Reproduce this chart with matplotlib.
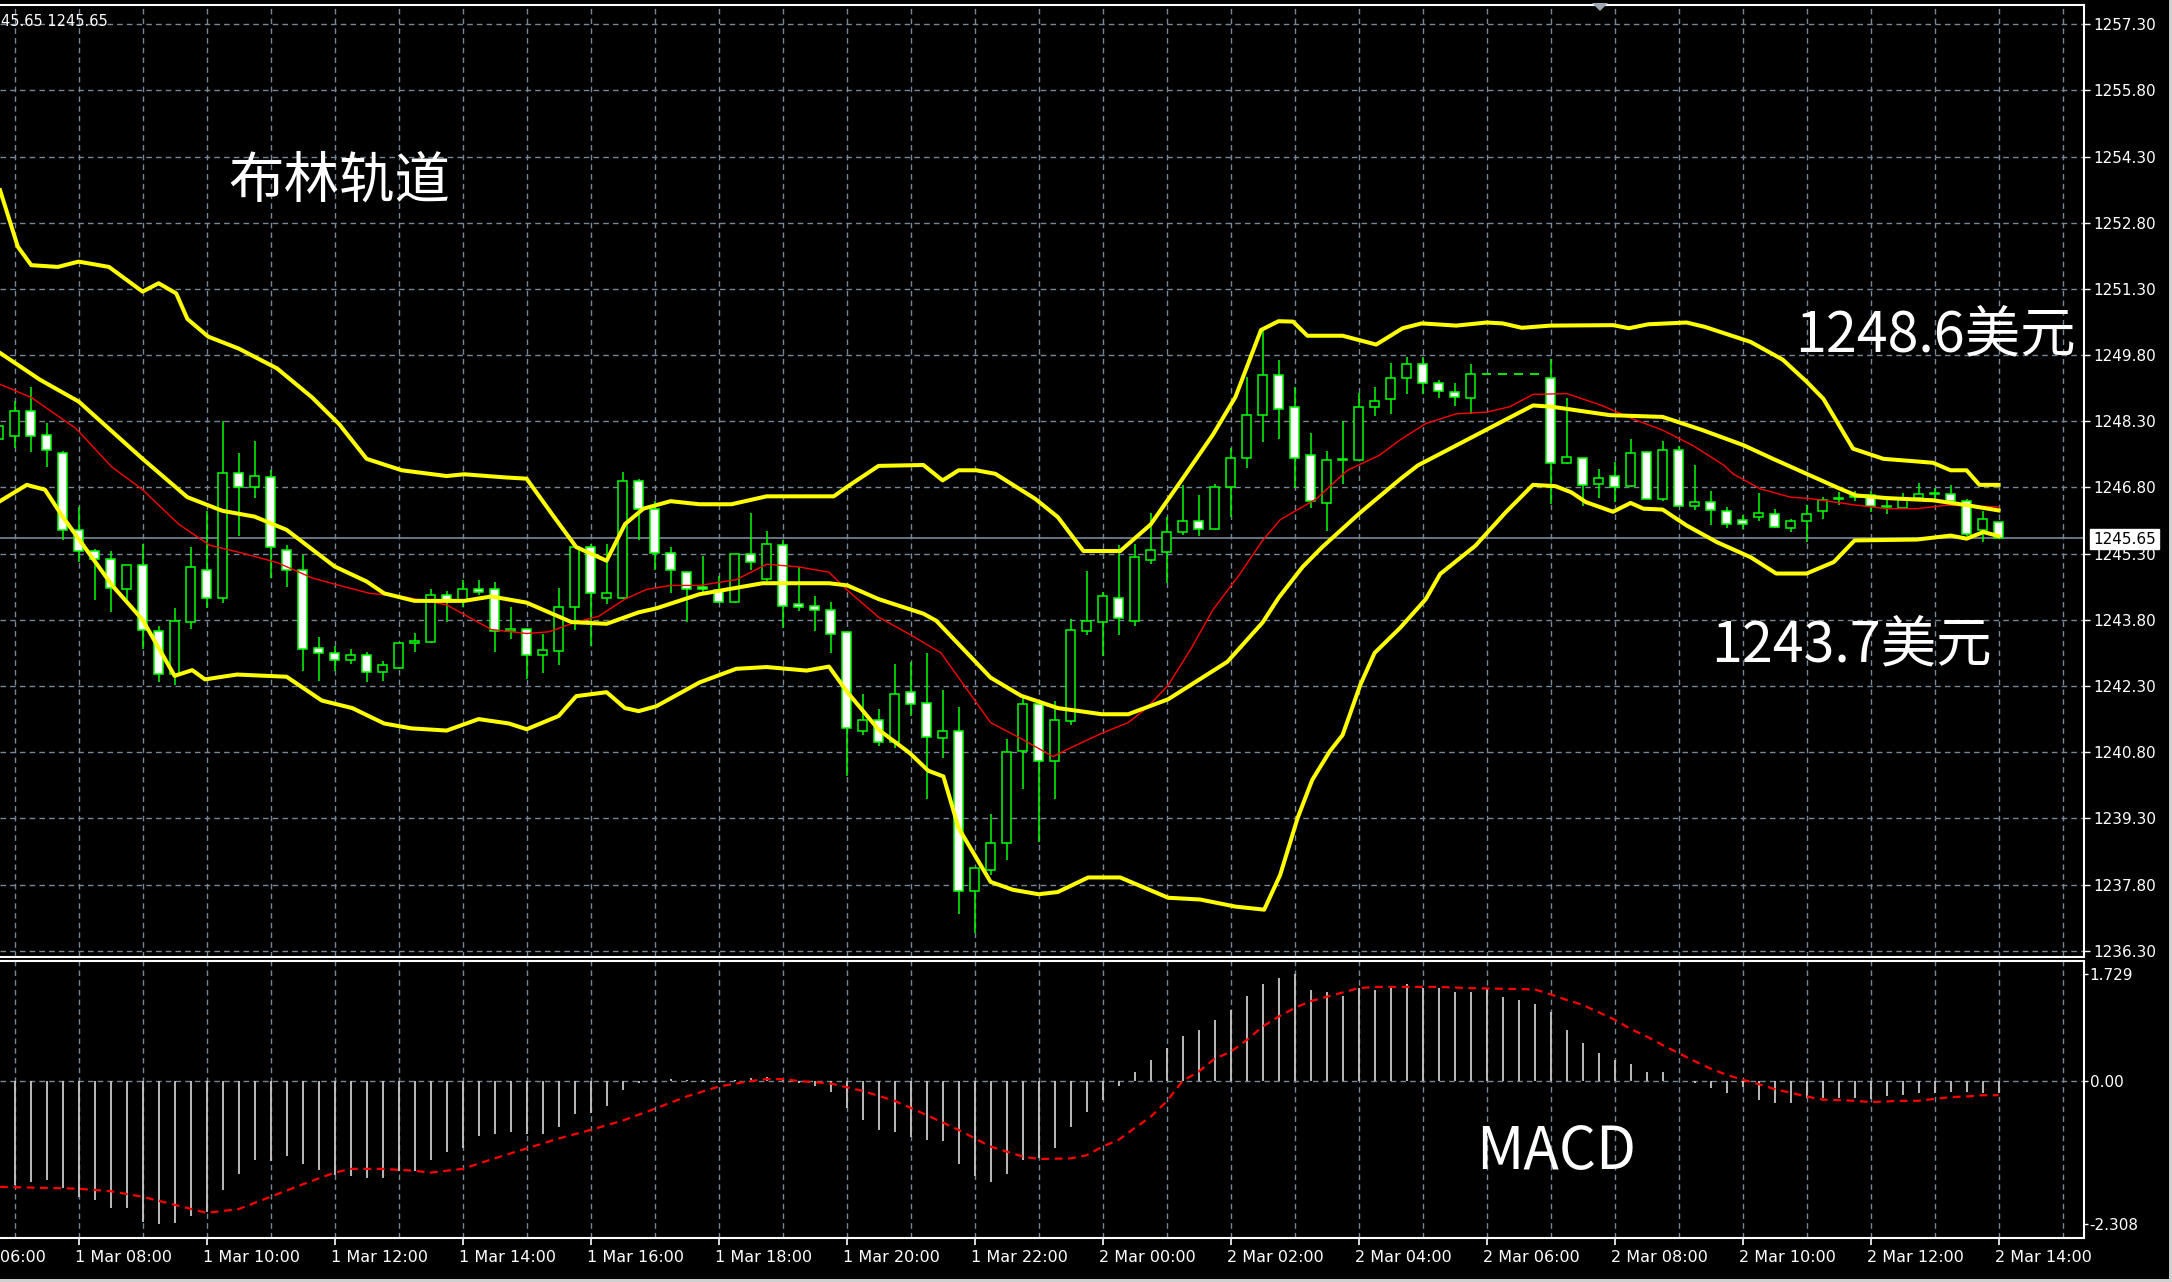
import numpy as np
import matplotlib
matplotlib.use("Agg")
import matplotlib.pyplot as plt
from matplotlib.patches import Rectangle
from matplotlib import transforms

W, H = 2172, 1282

# ---------------- data ----------------
# 15-minute candles; index 0 = 1 Mar 07:00, index -1 = 1 Mar 06:45, index 124 = 2 Mar 14:00
FIRST_INDEX = -1
OPEN = [1247.90,
    1247.97, 1248.53, 1247.99, 1247.58, 1245.84, 1245.37, 1245.18, 1244.50, 1245.04, 1243.54,
    1242.58, 1243.75, 1244.94, 1244.29, 1247.12, 1246.80, 1247.03, 1245.39, 1244.93, 1243.17,
    1243.04, 1242.89, 1243.00, 1242.62, 1242.70, 1243.28, 1243.29, 1244.36, 1244.25, 1244.49,
    1244.50, 1243.54, 1243.60, 1243.00, 1243.10, 1244.10, 1245.45, 1244.30, 1244.30, 1246.94,
    1246.32, 1245.32, 1244.89, 1244.55, 1244.47, 1244.20, 1245.30, 1244.72, 1245.49, 1244.15,
    1244.11, 1244.03, 1243.52, 1241.28, 1241.53, 1241.03, 1242.16, 1241.92, 1241.12, 1241.28,
    1237.66, 1238.12, 1238.75, 1240.82, 1241.90, 1240.60, 1241.51, 1243.54, 1243.74, 1244.30,
    1243.78, 1245.15, 1245.34, 1245.79, 1246.05, 1245.87, 1246.80, 1247.47, 1248.44, 1249.35,
    1248.63, 1247.53, 1246.45, 1247.43, 1247.43, 1248.63, 1248.80, 1249.29, 1249.61, 1249.16,
    1248.97, 1248.84, 1249.38, 1249.38, 1249.38, 1249.38, 1249.29, 1247.35, 1247.47, 1246.88,
    1247.07, 1246.83, 1247.60, 1246.53, 1247.66, 1246.39, 1246.48, 1246.27, 1246.07, 1246.12,
    1246.21, 1245.88, 1246.03, 1246.26, 1246.55, 1246.58, 1246.62, 1246.36, 1246.33, 1246.56,
    1246.66, 1246.66, 1246.49, 1245.83, 1246.02]
HIGH = [1248.60,
    1248.76, 1249.08, 1248.27, 1247.62, 1246.36, 1245.40, 1245.37, 1245.04, 1245.53, 1243.67,
    1244.06, 1245.44, 1246.27, 1248.30, 1247.58, 1247.86, 1247.20, 1245.49, 1245.28, 1243.41,
    1243.20, 1243.15, 1243.08, 1242.86, 1243.28, 1243.50, 1244.50, 1244.46, 1244.70, 1244.70,
    1244.65, 1244.10, 1243.62, 1243.47, 1244.53, 1245.45, 1245.53, 1245.53, 1247.14, 1246.99,
    1246.49, 1245.45, 1244.89, 1245.24, 1244.80, 1245.30, 1246.22, 1245.81, 1245.62, 1244.99,
    1244.35, 1244.20, 1243.52, 1242.12, 1241.77, 1242.81, 1242.85, 1243.04, 1242.20, 1241.82,
    1238.17, 1239.40, 1241.09, 1242.10, 1241.90, 1241.96, 1243.82, 1244.90, 1244.43, 1245.49,
    1245.53, 1246.23, 1246.13, 1246.86, 1246.62, 1246.88, 1247.70, 1249.31, 1250.40, 1249.69,
    1249.08, 1248.04, 1247.62, 1248.30, 1248.95, 1249.08, 1249.63, 1249.76, 1249.76, 1249.23,
    1249.16, 1249.59, 1249.38, 1249.38, 1249.38, 1249.38, 1249.72, 1248.82, 1247.47, 1247.22,
    1247.38, 1247.91, 1247.60, 1247.85, 1247.75, 1247.32, 1246.71, 1246.36, 1246.18, 1246.68,
    1246.32, 1246.09, 1246.41, 1246.58, 1246.70, 1246.71, 1246.71, 1246.51, 1246.67, 1246.91,
    1246.79, 1246.85, 1246.55, 1246.26, 1246.02]
LOW = [1247.75,
    1247.70, 1247.60, 1247.27, 1245.62, 1245.10, 1244.26, 1243.97, 1244.25, 1243.15, 1242.40,
    1242.32, 1243.60, 1244.06, 1244.18, 1245.71, 1246.56, 1244.75, 1244.55, 1242.63, 1242.41,
    1242.65, 1242.80, 1242.40, 1242.42, 1242.69, 1243.07, 1243.28, 1243.76, 1244.10, 1244.36,
    1243.06, 1243.37, 1242.47, 1242.60, 1242.77, 1243.58, 1243.20, 1244.15, 1244.27, 1245.62,
    1244.93, 1244.40, 1243.75, 1244.40, 1244.19, 1244.19, 1244.92, 1244.67, 1243.62, 1244.00,
    1243.54, 1243.05, 1240.25, 1241.19, 1240.94, 1240.90, 1241.61, 1239.74, 1240.66, 1237.13,
    1236.69, 1238.02, 1238.35, 1239.97, 1238.77, 1239.73, 1241.41, 1243.46, 1242.97, 1243.46,
    1243.66, 1245.06, 1244.63, 1245.73, 1245.69, 1245.83, 1246.13, 1247.24, 1247.83, 1247.91,
    1246.78, 1246.33, 1245.82, 1246.88, 1247.43, 1248.42, 1248.47, 1248.93, 1248.93, 1248.83,
    1248.65, 1248.47, 1249.38, 1249.38, 1249.38, 1249.38, 1246.43, 1247.34, 1246.39, 1246.56,
    1246.47, 1246.81, 1246.53, 1246.50, 1246.38, 1246.28, 1245.95, 1245.88, 1245.87, 1246.05,
    1245.88, 1245.79, 1245.56, 1246.08, 1246.41, 1246.49, 1246.24, 1246.21, 1246.32, 1246.55,
    1246.51, 1246.48, 1245.70, 1245.56, 1245.65]
CLOSE = [1248.20,
    1248.53, 1247.97, 1247.66, 1245.84, 1245.37, 1245.18, 1244.52, 1245.04, 1243.58, 1242.58,
    1243.78, 1244.99, 1244.29, 1247.12, 1246.80, 1247.07, 1245.45, 1244.93, 1243.15, 1243.04,
    1242.89, 1243.00, 1242.62, 1242.77, 1243.28, 1243.32, 1244.36, 1244.25, 1244.49, 1244.44,
    1243.54, 1243.60, 1243.00, 1243.12, 1244.08, 1245.45, 1244.41, 1244.41, 1246.94, 1246.32,
    1245.32, 1244.93, 1244.50, 1244.50, 1244.20, 1245.30, 1245.12, 1245.53, 1244.12, 1244.10,
    1244.03, 1243.47, 1241.35, 1241.53, 1241.03, 1242.12, 1241.90, 1241.15, 1241.28, 1237.66,
    1238.17, 1238.75, 1240.80, 1241.90, 1240.60, 1241.53, 1243.58, 1243.77, 1244.35, 1243.85,
    1245.22, 1245.39, 1245.79, 1246.05, 1245.85, 1246.80, 1247.47, 1248.44, 1249.35, 1248.57,
    1247.47, 1246.50, 1247.43, 1247.45, 1248.63, 1248.75, 1249.29, 1249.61, 1249.16, 1248.98,
    1248.85, 1249.38, 1249.38, 1249.38, 1249.38, 1249.38, 1247.35, 1247.49, 1246.86, 1247.02,
    1246.81, 1247.58, 1246.53, 1247.66, 1246.39, 1246.48, 1246.30, 1245.98, 1245.98, 1246.22,
    1245.90, 1246.03, 1246.21, 1246.51, 1246.57, 1246.60, 1246.38, 1246.37, 1246.56, 1246.66,
    1246.67, 1246.49, 1245.75, 1246.08, 1245.65]

# Bollinger bands and red moving average, read as (candle index, price) points
BB_UP_X = [-0.91, 0.2, 1.04, 2.7, 4.0, 5.9, 8.0, 9.0, 10.1, 10.8, 12.1, 14.0, 16.4, 18.6, 20.3, 22.0,
           24.2, 27.0, 28.1, 30.6, 32.0, 33.7, 35.1, 37.0, 38.15, 39.3, 41.0, 42.8, 44.8, 47.0, 51.2,
           52.05, 54.0, 56.8, 58.0, 59.0, 60.1, 61.3, 63.8, 65.2, 66.8, 69.1, 71.0, 73.0, 74.9, 76.3,
           77.9, 79.0, 79.9, 80.8, 83.0, 85.1, 86.75, 87.95, 90.1, 92.0, 93.0, 94.2, 96.0, 99.9, 100.9,
           102.1, 104.5, 105.65, 108.5, 110.5, 112.0, 113.05, 114.9, 116.8, 118.9, 119.9, 121.0, 122.0,
           122.8, 124.0]
BB_UP_Y = [1253.54, 1252.26, 1251.84, 1251.80, 1251.92, 1251.80, 1251.24, 1251.43, 1251.20, 1250.62,
           1250.22, 1249.95, 1249.50, 1248.84, 1248.23, 1247.45, 1247.19, 1247.06, 1247.10, 1247.03,
           1247.00, 1246.14, 1245.45, 1245.14, 1245.97, 1246.32, 1246.49, 1246.42, 1246.42, 1246.60,
           1246.60, 1246.82, 1247.29, 1247.31, 1246.96, 1247.19, 1247.19, 1247.11, 1246.54, 1246.13,
           1245.36, 1245.36, 1245.96, 1247.00, 1248.00, 1248.85, 1250.37, 1250.57, 1250.56, 1250.24,
           1250.24, 1250.04, 1250.41, 1250.52, 1250.47, 1250.54, 1250.52, 1250.42, 1250.47, 1250.48,
           1250.41, 1250.50, 1250.54, 1250.44, 1250.10, 1249.70, 1249.20, 1248.81, 1247.68, 1247.45,
           1247.39, 1247.36, 1247.19, 1247.19, 1246.86, 1246.86]
BB_MID_X = [-0.91, 1.6, 4.0, 8.0, 10.8, 13.0, 15.0, 17.0, 20.0, 22.0, 23.1, 25.0, 28.1, 29.8, 32.0, 34.8,
            37.0, 39.0, 40.1, 42.8, 46.75, 50.9, 52.05, 54.0, 56.8, 57.6, 61.0, 62.9, 65.2, 67.95, 69.6,
            72.1, 75.8, 78.0, 79.0, 80.5, 81.7, 84.1, 86.6, 87.7, 91.3, 94.9, 96.1, 99.7, 103.0, 105.5,
            108.05, 109.9, 112.0, 114.1, 115.1, 117.0, 119.9, 122.0, 124.0]
BB_MID_Y = [1249.85, 1249.24, 1248.75, 1247.45, 1246.58, 1246.27, 1246.14, 1245.84, 1245.01, 1244.67,
            1244.40, 1244.23, 1244.23, 1244.33, 1244.19, 1243.75, 1243.71, 1243.97, 1244.06, 1244.38,
            1244.63, 1244.63, 1244.58, 1244.27, 1243.94, 1243.78, 1242.49, 1242.08, 1241.80, 1241.66,
            1241.66, 1242.00, 1242.85, 1243.74, 1244.30, 1245.00, 1245.44, 1246.23, 1246.99, 1247.30,
            1247.98, 1248.66, 1248.63, 1248.44, 1248.40, 1248.10, 1247.76, 1247.45, 1247.11, 1246.77,
            1246.62, 1246.56, 1246.51, 1246.40, 1246.28]
BB_LOW_X = [-0.91, 0.76, 1.9, 3.0, 6.1, 8.0, 10.0, 11.1, 11.9, 13.9, 17.0, 19.2, 21.1, 23.1, 24.8, 27.0,
            29.0, 30.9, 32.0, 34.0, 35.1, 37.0, 38.15, 39.0, 40.1, 42.8, 45.1, 47.0, 49.5, 50.9, 52.05,
            54.0, 55.95, 57.1, 58.05, 59.0, 61.0, 62.4, 64.0, 65.2, 67.1, 69.1, 72.1, 74.1, 76.3, 78.1,
            79.1, 80.2, 81.1, 82.2, 83.0, 84.1, 85.0, 86.6, 88.2, 89.1, 91.3, 93.2, 94.9, 96.3, 97.3,
            98.2, 99.9, 101.0, 101.8, 103.0, 104.5, 106.4, 108.5, 110.1, 112.0, 113.7, 115.0, 118.9,
            121.0, 122.0, 123.05, 124.0]
BB_LOW_Y = [1246.49, 1246.86, 1246.75, 1246.14, 1244.58, 1243.80, 1242.53, 1242.66, 1242.45, 1242.56,
            1242.51, 1241.97, 1241.80, 1241.45, 1241.34, 1241.29, 1241.55, 1241.45, 1241.32, 1241.62,
            1242.07, 1242.16, 1241.80, 1241.73, 1241.84, 1242.38, 1242.69, 1242.73, 1242.65, 1242.74,
            1242.16, 1241.31, 1240.78, 1240.38, 1240.25, 1239.08, 1237.86, 1237.68, 1237.58, 1237.63,
            1237.96, 1237.96, 1237.50, 1237.46, 1237.30, 1237.23, 1238.02, 1239.32, 1240.17, 1240.82,
            1241.19, 1242.32, 1243.05, 1243.62, 1244.27, 1244.84, 1245.48, 1246.24, 1246.86, 1246.83,
            1246.69, 1246.47, 1246.25, 1246.45, 1246.32, 1246.30, 1245.94, 1245.56, 1245.22, 1244.85,
            1244.85, 1245.11, 1245.60, 1245.62, 1245.71, 1245.64, 1245.79, 1245.70]
MA_X = [-0.91, 1.04, 3.83, 6.06, 8.0, 10.25, 12.2, 14.15, 16.4, 18.6, 20.3, 22.2, 24.2, 27.0, 28.7, 29.8,
        32.0, 33.4, 35.1, 36.5, 38.15, 39.5, 41.0, 42.8, 45.1, 47.0, 49.0, 50.9, 52.05, 54.0, 56.0, 57.9,
        59.0, 61.0, 62.9, 64.9, 66.0, 67.95, 69.6, 70.75, 72.1, 73.5, 74.9, 76.6, 78.0, 79.1, 81.35,
        83.3, 85.3, 86.6, 88.2, 90.1, 92.0, 93.45, 94.9, 97.0, 99.2, 101.1, 103.0, 104.9, 106.85, 107.4,
        109.1, 111.0, 112.2, 115.1, 117.0, 118.9, 120.8, 124.0]
MA_Y = [1249.14, 1248.84, 1248.14, 1247.27, 1246.75, 1245.97, 1245.49, 1245.32, 1245.10, 1244.75,
        1244.58, 1244.40, 1244.33, 1244.14, 1243.80, 1243.58, 1243.49, 1243.53, 1243.75, 1243.88,
        1244.27, 1244.49, 1244.58, 1244.58, 1244.71, 1245.06, 1245.00, 1244.88, 1244.47, 1243.86,
        1243.46, 1243.05, 1242.49, 1241.47, 1241.11, 1240.70, 1240.90, 1241.23, 1241.47, 1241.80,
        1242.32, 1243.13, 1244.03, 1244.85, 1245.60, 1246.07, 1246.54, 1247.19, 1247.53, 1247.88,
        1248.25, 1248.47, 1248.51, 1248.63, 1248.91, 1248.93, 1248.66, 1248.36, 1248.10, 1247.75,
        1247.30, 1247.11, 1246.77, 1246.58, 1246.55, 1246.40, 1246.32, 1246.32, 1246.40, 1246.36]

# MACD histogram, one value per candle (index -1 .. 124)
MACD_HIST = [-1.66,
    -1.68, -1.63, -1.60, -1.73, -1.87, -1.92, -2.05, -2.05, -2.27, -2.31,
    -2.30, -2.18, -2.11, -1.76, -1.50, -1.28, -1.30, -1.21, -1.34, -1.44,
    -1.52, -1.53, -1.56, -1.56, -1.46, -1.45, -1.28, -1.14, -1.09, -0.89,
    -0.86, -0.82, -0.86, -0.86, -0.75, -0.53, -0.52, -0.40, -0.15, -0.03,
    -0.01, 0.04, 0.02, 0.01, -0.01, 0.02, 0.05, 0.07, 0.03, -0.04,
    -0.08, -0.17, -0.44, -0.63, -0.79, -0.82, -0.91, -0.95, -0.97, -1.34,
    -1.53, -1.63, -1.50, -1.28, -1.25, -1.08, -0.75, -0.50, -0.30, -0.08,
    0.15, 0.34, 0.53, 0.73, 0.82, 0.99, 1.15, 1.37, 1.56, 1.67,
    1.73, 1.47, 1.44, 1.38, 1.51, 1.47, 1.51, 1.56, 1.51, 1.50,
    1.44, 1.44, 1.48, 1.35, 1.31, 1.24, 1.11, 0.82, 0.62, 0.46,
    0.34, 0.27, 0.15, 0.15, 0.00, -0.04, -0.11, -0.20, -0.09, -0.30,
    -0.36, -0.36, -0.27, -0.28, -0.28, -0.27, -0.29, -0.25, -0.23, -0.20,
    -0.20, -0.18, -0.17, -0.20, -0.20]
SIG_X = [-0.91, 4, 6, 8, 10, 12, 14, 16, 18, 20, 21, 23, 25, 26, 28, 30, 32, 34, 36, 38, 40, 42, 44, 46,
         47, 48, 49, 51, 53, 55, 57, 59, 61, 63, 64, 66, 67, 68, 69, 70, 71, 72, 73, 74, 75, 76, 77, 78,
         79, 80, 81, 82, 83, 84, 85, 87, 89, 91, 93, 95, 96, 97, 98, 99, 100, 101, 102, 103, 104, 105,
         106, 107, 108, 109, 110, 111, 112, 113, 115, 116, 118, 119, 120, 121, 122, 123, 124]
SIG_Y = [-1.71, -1.74, -1.78, -1.87, -2.00, -2.13, -2.07, -1.87, -1.67, -1.48, -1.42, -1.42, -1.45, -1.48,
         -1.42, -1.25, -1.09, -0.93, -0.79, -0.64, -0.45, -0.25, -0.09, 0.00, 0.03, 0.03, 0.00, -0.04,
         -0.16, -0.32, -0.55, -0.79, -1.06, -1.22, -1.26, -1.25, -1.20, -1.06, -0.95, -0.76, -0.58, -0.33,
         0.00, 0.15, 0.36, 0.47, 0.66, 0.88, 1.04, 1.18, 1.29, 1.36, 1.43, 1.50, 1.52, 1.52, 1.52, 1.50,
         1.49, 1.48, 1.40, 1.31, 1.23, 1.11, 0.99, 0.84, 0.72, 0.58, 0.45, 0.32, 0.20, 0.10, 0.02, -0.05,
         -0.13, -0.19, -0.25, -0.30, -0.32, -0.34, -0.32, -0.32, -0.29, -0.26, -0.25, -0.23, -0.23]

PRICE_TICKS = [1236.30, 1237.80, 1239.30, 1240.80, 1242.30, 1243.80, 1245.30, 1246.80, 1248.30,
               1249.80, 1251.30, 1252.80, 1254.30, 1255.80, 1257.30]
CURRENT_PRICE = 1245.65
MACD_TICKS = [1.729, 0.0, -2.308]
MACD_TICK_LABELS = ["1.729", "0.00", "-2.308"]
TIME_LABELS = ["1 Mar 06:00", "1 Mar 08:00", "1 Mar 10:00", "1 Mar 12:00", "1 Mar 14:00", "1 Mar 16:00",
               "1 Mar 18:00", "1 Mar 20:00", "1 Mar 22:00", "2 Mar 00:00", "2 Mar 02:00", "2 Mar 04:00",
               "2 Mar 06:00", "2 Mar 08:00", "2 Mar 10:00", "2 Mar 12:00", "2 Mar 14:00"]
TITLE = "布林轨道"
UPPER_NOTE = "1248.6美元"
LOWER_NOTE = "1243.7美元"
MACD_NOTE = "MACD"
TOP_INFO = "45.65 1245.65"

# ---------------- style ----------------
GRID = "#778899"
LIME = "#00FF00"
YELLOW = "#FFFF00"
RED = "#FF0000"
HISTC = "#C8C8C8"
CJK = ["Noto Sans CJK SC", "DejaVu Sans"]
plt.rcParams["font.family"] = ["DejaVu Sans"]

fig = plt.figure(figsize=(W / 100, H / 100), dpi=100, facecolor="black")


def fx(px):
    return px / W


def fy(py):
    return 1 - py / H


X0 = (0 - 14.6) / 16.0
X1 = (2084 - 14.6) / 16.0

# main panel
MAIN_TOP, MAIN_BOT = 5, 957
ax = fig.add_axes([0, fy(MAIN_BOT), fx(2084), (MAIN_BOT - MAIN_TOP) / H])
ax.set_facecolor("black")
ax.set_xlim(X0, X1)
ax.set_ylim(1257.3 - (MAIN_BOT - 24.3) / 44.114, 1257.3 + (24.3 - MAIN_TOP) / 44.114)

# macd panel
M_TOP, M_BOT, M_ZERO, M_SCALE = 961, 1238, 1081, 61.9
ax2 = fig.add_axes([0, fy(M_BOT), fx(2084), (M_BOT - M_TOP) / H])
ax2.set_facecolor("black")
ax2.set_xlim(X0, X1)
ax2.set_ylim(-(M_BOT - M_ZERO) / M_SCALE, (M_ZERO - M_TOP) / M_SCALE)

for a in (ax, ax2):
    for s in ("top", "right", "bottom"):
        a.spines[s].set_color("white")
        a.spines[s].set_linewidth(1.5)
    a.spines["left"].set_visible(False)
    for gx in np.arange(0, X1, 4):
        a.axvline(gx, color=GRID, lw=1.0, dashes=(4, 3), zorder=1)

for p in PRICE_TICKS:
    ax.axhline(p, color=GRID, lw=1.0, dashes=(4, 3), zorder=1)
ax2.axhline(0, color=GRID, lw=1.0, dashes=(4, 3), zorder=1)

# current price line
ax.axhline(CURRENT_PRICE, color=GRID, lw=1.2, zorder=2)

# candles
idx = np.arange(FIRST_INDEX, FIRST_INDEX + len(OPEN))
bw = 0.56
for x, o, h, l, c in zip(idx, OPEN, HIGH, LOW, CLOSE):
    ax.vlines(x, l, h, color=LIME, lw=1.1, zorder=3)
    if abs(c - o) < 1e-9:
        ax.hlines(o, x - bw / 2, x + bw / 2, color=LIME, lw=1.3, zorder=4)
    else:
        lo, hi = min(o, c), max(o, c)
        ax.add_patch(Rectangle((x - bw / 2, lo), bw, hi - lo,
                               facecolor="white" if c < o else "black",
                               edgecolor=LIME, lw=1.1, zorder=4))

# indicators
ax.plot(MA_X, MA_Y, color=RED, lw=1.0, zorder=5)
for bx, by in ((BB_UP_X, BB_UP_Y), (BB_MID_X, BB_MID_Y), (BB_LOW_X, BB_LOW_Y)):
    ax.plot(bx, by, color=YELLOW, lw=2.9, zorder=6, solid_joinstyle="round")

# MACD
hidx = np.arange(FIRST_INDEX, FIRST_INDEX + len(MACD_HIST))
ax2.vlines(hidx, 0, MACD_HIST, color=HISTC, lw=1.3, zorder=3)
ax2.plot(SIG_X, SIG_Y, color=RED, lw=1.6, dashes=(3.5, 2.5), zorder=4)

# axes ticks / labels
ax.yaxis.tick_right()
ax.set_yticks(PRICE_TICKS)
ax.set_yticklabels([f"{v:.2f}" for v in PRICE_TICKS])
ax.tick_params(axis="y", colors="white", length=4, width=1, pad=3, labelsize=11, direction="out")
ax.tick_params(axis="x", length=0, labelbottom=False)

ax2.yaxis.tick_right()
ax2.set_yticks(MACD_TICKS)
ax2.set_yticklabels(MACD_TICK_LABELS)
ax2.tick_params(axis="y", colors="white", length=3, width=1, pad=1, labelsize=11, direction="out")

tick_pos = [-4 + 8 * k for k in range(len(TIME_LABELS))]
ax2.set_xticks([t for t in tick_pos if X0 <= t <= X1])
ax2.tick_params(axis="x", colors="white", length=5, width=1.2, direction="out", labelbottom=False)
trans = transforms.blended_transform_factory(ax2.transData, fig.transFigure)
for t, lab in zip(tick_pos, TIME_LABELS):
    if t < X0:
        # the first label is cut by the left window edge; only its time part is visible
        fig.text(fx(0), fy(1257), lab.split(" ")[-1], color="white", fontsize=11.5,
                 ha="left", va="center")
    else:
        ax2.text(t - 0.2, fy(1257), lab, transform=trans, color="white", fontsize=11.5,
                 ha="left", va="center", clip_on=False)

# current price tag
fig.text(fx(2093), fy(539), f"{CURRENT_PRICE:.2f}", color="black", fontsize=11, ha="left", va="center",
         bbox=dict(boxstyle="square,pad=0.18", fc="white", ec="white"))

# top info text and shift marker
fig.text(fx(1), fy(22), TOP_INFO, color="white", fontsize=10.5, ha="left", va="center")
fig.patches.append(plt.Polygon([[fx(1592), fy(3)], [fx(1608), fy(3)], [fx(1600), fy(11)]],
                               closed=True, fc="#A0A8B0", ec="none", transform=fig.transFigure,
                               figure=fig))

# annotations
fig.text(fx(228), fy(182), TITLE, color="white", fontsize=40, family=CJK, ha="left", va="center")
fig.text(fx(1795), fy(336), UPPER_NOTE, color="white", fontsize=40, family=CJK, ha="left", va="center")
fig.text(fx(1711), fy(646), LOWER_NOTE, color="white", fontsize=40, family=CJK, ha="left", va="center")
fig.text(fx(1476), fy(1152), MACD_NOTE, color="white", fontsize=42, family=CJK, ha="left", va="center")

# window frame
fig.patches.append(Rectangle((fx(2169), 0), fx(3), 1, transform=fig.transFigure, fc="#D0D0D0",
                             ec="none", figure=fig))
fig.patches.append(Rectangle((0, 0), 1, 3 / H, transform=fig.transFigure, fc="#D0D0D0",
                             ec="none", figure=fig))

fig.savefig("out.png", dpi=100, facecolor="black")
